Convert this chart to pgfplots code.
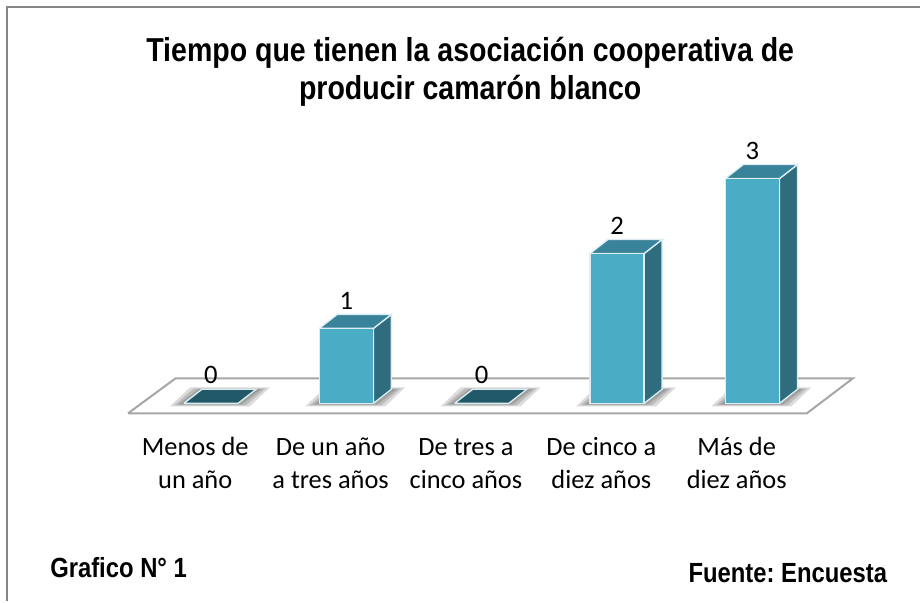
\documentclass[border=0pt]{standalone}
\usepackage{fontspec}
\setmainfont{Carlito}
\newfontfamily\arialf[FakeStretch=0.86]{Liberation Sans}
\usepackage{pgfplots}
\usepackage{pgfplotstable}
\pgfplotsset{compat=1.18}
\frenchspacing
\definecolor{front}{HTML}{4BACC6}
\definecolor{topf}{HTML}{38829A}
\definecolor{sidef}{HTML}{2F6C7E}
\definecolor{zerof}{HTML}{215968}
\definecolor{edgef}{HTML}{DCEEF3}
\definecolor{floorf}{HTML}{A6A6A6}
\definecolor{framef}{HTML}{868686}
\pgfplotstableread{
cat val
0 0
1 1
2 0
3 2
4 3
}\datatable
\newcommand\slayer[4]{\fill[black,opacity=0.14] (axis cs:#1+0.066-#2-0.074,#3) -- (axis cs:#1+0.066+#2-0.074,#3) -- (axis cs:#1+0.066+#2+0.074,#4) -- (axis cs:#1+0.066-#2+0.074,#4) -- cycle;}
\newcommand\shadowat[1]{%
\slayer{#1}{0.295}{-0.04}{0.213}%
\slayer{#1}{0.265}{-0.028}{0.201}%
\slayer{#1}{0.235}{-0.016}{0.189}%
\slayer{#1}{0.205}{-0.004}{0.177}%
\slayer{#1}{0.175}{0.008}{0.165}%
}
\begin{document}
\begin{tikzpicture}
\begin{axis}[
  at={(0,0)}, anchor=south west,
  scale only axis, width=690.75pt, height=309.75pt,
  xmin=-1.5585, xmax=5.2385, ymin=-0.1233, ymax=5.3833,
  clip=false,
  axis line style={draw=none},
  major tick style={draw=none},
  ytick=\empty,
  xtick={0,1,2,3,4},
  xticklabels={{\strut Menos de\\un año},{\strut De un año\\a tres años},{\strut De tres a\\cinco años},{\strut De cinco a\\diez años},{\strut Más de\\diez años}},
  x tick label style={align=center, font=\fontsize{19.8}{24.5}\selectfont, xshift=-11.8pt, yshift=-11.5pt},
]
% frame
\addplot[framef, line width=1.4pt, forget plot] coordinates {(-1.509,-2.643) (-1.509,5.29) (5.2385,5.29)};
% floor
\addplot[floorf, line width=1.5pt, line join=miter, forget plot] coordinates {(-0.6125,-0.133) (4.402,-0.133) (4.742,0.333) (-0.262,0.333) (-0.6125,-0.133)};
% shadows
\shadowat{0}\shadowat{1}\shadowat{2}\shadowat{3}\shadowat{4}
% zero bars
\addplot[draw=edgef, fill=zerof, line width=1pt, forget plot] coordinates {(-0.2,0) (0.2,0) (0.333,0.187) (-0.067,0.187) (-0.2,0)};
\addplot[draw=edgef, fill=zerof, line width=1pt, forget plot] coordinates {(1.8,0) (2.2,0) (2.333,0.187) (1.933,0.187) (1.8,0)};
% side faces
\addplot[draw=edgef, fill=sidef, line width=1pt, forget plot] coordinates {(1.2,0) (1.333,0.187) (1.333,1.187) (1.2,1) (1.2,0)};
\addplot[draw=edgef, fill=sidef, line width=1pt, forget plot] coordinates {(3.2,0) (3.333,0.187) (3.333,2.187) (3.2,2) (3.2,0)};
\addplot[draw=edgef, fill=sidef, line width=1pt, forget plot] coordinates {(4.2,0) (4.333,0.187) (4.333,3.187) (4.2,3) (4.2,0)};
% top faces
\addplot[draw=edgef, fill=topf, line width=1pt, forget plot] coordinates {(0.8,1) (1.2,1) (1.333,1.187) (0.933,1.187) (0.8,1)};
\addplot[draw=edgef, fill=topf, line width=1pt, forget plot] coordinates {(2.8,2) (3.2,2) (3.333,2.187) (2.933,2.187) (2.8,2)};
\addplot[draw=edgef, fill=topf, line width=1pt, forget plot] coordinates {(3.8,3) (4.2,3) (4.333,3.187) (3.933,3.187) (3.8,3)};
% front faces
\addplot[ybar, bar width=0.4, bar shift=0pt, draw=edgef, fill=front, line width=1pt,
  nodes near coords,
  every node near coord/.append style={anchor=center, yshift=21pt, font=\fontsize{20}{22}\selectfont, text=black},
  /pgf/number format/assume math mode=true,
  forget plot] table[x=cat, y=val] {\datatable};
% texts
\node[align=center, font=\arialf\bfseries\fontsize{24.9}{28.6}\selectfont] at (axis cs:1.915,4.42) {Tiempo que tienen la asociación cooperativa de\\producir camarón blanco};
\node[anchor=west, font=\arialf\bfseries\fontsize{20.8}{22}\selectfont] at (axis cs:-1.222,-2.19) {Grafico N° 1};
\node[anchor=east, font=\arialf\bfseries\fontsize{20.8}{22}\selectfont] at (axis cs:5.03,-2.27) {Fuente: Encuesta};
\path (axis cs:-1.5585,-2.6433) -- (axis cs:5.2385,-2.6433);
\end{axis}
\end{tikzpicture}
\end{document}
